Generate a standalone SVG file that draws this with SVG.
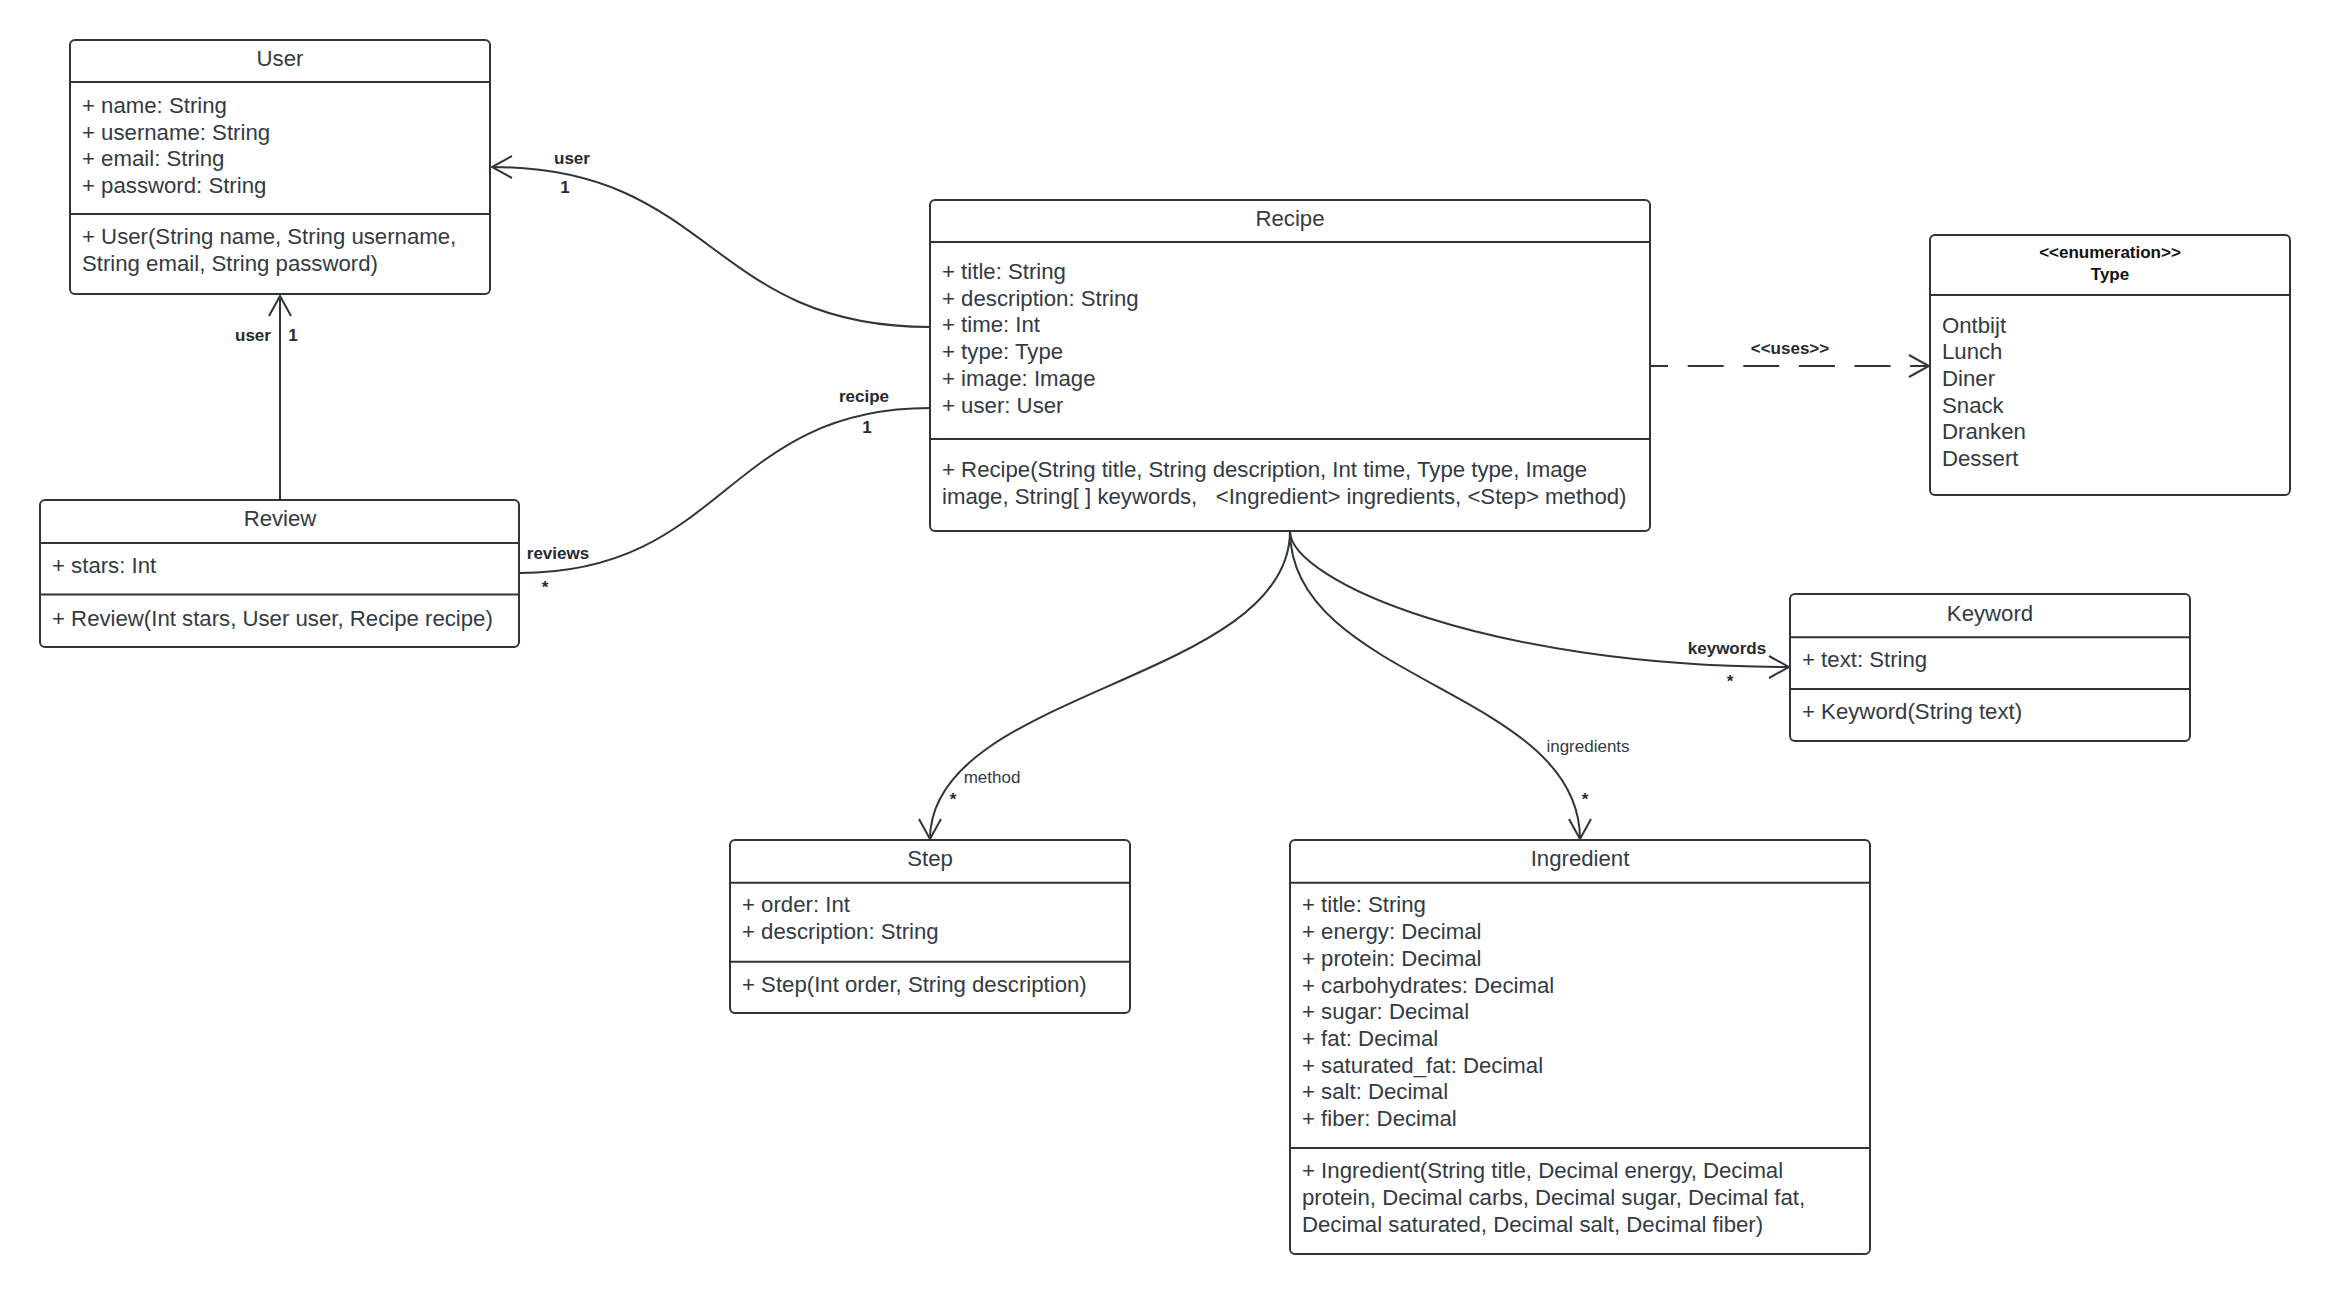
<svg xmlns="http://www.w3.org/2000/svg" width="2330" height="1294" viewBox="0 0 2330 1294">
  <style>
    .box { fill: #ffffff; stroke: #2f353d; stroke-width: 2; }
    .div { stroke: #2f353d; stroke-width: 2; }
    .t { font-family: "Liberation Sans", Arial, sans-serif; font-size: 22.2px; fill: #333a44; }
    .h { text-anchor: middle; }
    .lb { font-family: "Liberation Sans", Arial, sans-serif; font-size: 17px; font-weight: bold; fill: #262b31; text-anchor: middle; }
    .lr { font-family: "Liberation Sans", Arial, sans-serif; font-size: 17px; fill: #333a44; text-anchor: middle; }
    .eb { font-family: "Liberation Sans", Arial, sans-serif; font-size: 17px; font-weight: bold; fill: #111111; text-anchor: middle; }
    .link { fill: none; stroke: #2f353d; stroke-width: 2; }
    .dash { stroke-dasharray: 36 19.6; stroke-dashoffset: 17.9; }
  </style>
  <defs>
    <marker id="open" viewBox="-23 -13 25 26" refX="0" refY="0" markerWidth="25" markerHeight="26" markerUnits="userSpaceOnUse" orient="auto">
      <path d="M -20 -11 L 0 0 L -20 11" fill="none" stroke="#2f353d" stroke-width="2" stroke-dasharray="none"/>
    </marker>
  </defs>
  <rect width="2330" height="1294" fill="#ffffff"/>

  <!-- connectors -->
  <g id="connectors">
    <path class="link" d="M930,327 C708,327 714,167 492,167" marker-end="url(#open)"/>
    <path class="link" d="M280,500 L280,296" marker-end="url(#open)"/>
    <path class="link" d="M520,573 C725,573 725,408 930,408"/>
    <path class="link dash" d="M1650,366 L1929,366" marker-end="url(#open)"/>
    <path class="link" d="M1290,531 C1290,681 930,690 930,839" marker-end="url(#open)"/>
    <path class="link" d="M1290,531 C1290,681 1580,690 1580,839" marker-end="url(#open)"/>
    <path class="link" d="M1290,531 C1290,581 1490,667 1789,667" marker-end="url(#open)"/>

    <text class="lb" x="572" y="164">user</text>
    <text class="lb" x="565" y="193">1</text>
    <text class="lb" x="253" y="341">user</text>
    <text class="lb" x="293" y="341">1</text>
    <text class="lb" x="558" y="559">reviews</text>
    <text class="lb" x="545" y="593">*</text>
    <text class="lb" x="864" y="402">recipe</text>
    <text class="lb" x="867" y="433">1</text>
    <text class="lb" x="1790" y="354">&lt;&lt;uses&gt;&gt;</text>
    <text class="lb" x="1727" y="654">keywords</text>
    <text class="lb" x="1730" y="687">*</text>
    <text class="lr" x="992" y="783">method</text>
    <text class="lb" x="953" y="805">*</text>
    <text class="lr" x="1588" y="752">ingredients</text>
    <text class="lb" x="1585" y="805">*</text>
  </g>

  <!-- User -->
  <g id="user">
    <rect class="box" x="70" y="40" width="420" height="254" rx="5"/>
    <line class="div" x1="70" y1="82" x2="490" y2="82"/>
    <line class="div" x1="70" y1="214" x2="490" y2="214"/>
    <text class="t h" x="280" y="65.7">User</text>
    <text class="t" x="82" y="113">+ name: String</text>
    <text class="t" x="82" y="139.7">+ username: String</text>
    <text class="t" x="82" y="166.4">+ email: String</text>
    <text class="t" x="82" y="193.1">+ password: String</text>
    <text class="t" x="82" y="244.3">+ User(String name, String username,</text>
    <text class="t" x="82" y="271">String email, String password)</text>
  </g>

  <!-- Review -->
  <g id="review">
    <rect class="box" x="40" y="500" width="479" height="147" rx="5"/>
    <line class="div" x1="40" y1="543" x2="519" y2="543"/>
    <line class="div" x1="40" y1="594.5" x2="519" y2="594.5"/>
    <text class="t h" x="280" y="525.7">Review</text>
    <text class="t" x="52" y="573.3">+ stars: Int</text>
    <text class="t" x="52" y="625.7">+ Review(Int stars, User user, Recipe recipe)</text>
  </g>

  <!-- Recipe -->
  <g id="recipe">
    <rect class="box" x="930" y="200" width="720" height="331" rx="5"/>
    <line class="div" x1="930" y1="242" x2="1650" y2="242"/>
    <line class="div" x1="930" y1="439" x2="1650" y2="439"/>
    <text class="t h" x="1290" y="226">Recipe</text>
    <text class="t" x="942" y="279">+ title: String</text>
    <text class="t" x="942" y="305.7">+ description: String</text>
    <text class="t" x="942" y="332.4">+ time: Int</text>
    <text class="t" x="942" y="359.1">+ type: Type</text>
    <text class="t" x="942" y="385.8">+ image: Image</text>
    <text class="t" x="942" y="412.5">+ user: User</text>
    <text class="t" x="942" y="477">+ Recipe(String title, String description, Int time, Type type, Image</text>
    <text class="t" x="942" y="503.7" xml:space="preserve">image, String[ ] keywords,   &lt;Ingredient&gt; ingredients, &lt;Step&gt; method)</text>
  </g>

  <!-- Type enumeration -->
  <g id="type">
    <rect class="box" x="1930" y="235" width="360" height="260" rx="5"/>
    <line class="div" x1="1930" y1="295" x2="2290" y2="295"/>
    <text class="eb" x="2110" y="258">&lt;&lt;enumeration&gt;&gt;</text>
    <text class="eb" x="2110" y="280">Type</text>
    <text class="t" x="1942" y="332.5">Ontbijt</text>
    <text class="t" x="1942" y="359.2">Lunch</text>
    <text class="t" x="1942" y="385.9">Diner</text>
    <text class="t" x="1942" y="412.6">Snack</text>
    <text class="t" x="1942" y="439.3">Dranken</text>
    <text class="t" x="1942" y="466">Dessert</text>
  </g>

  <!-- Keyword -->
  <g id="keyword">
    <rect class="box" x="1790" y="594" width="400" height="147" rx="5"/>
    <line class="div" x1="1790" y1="637.3" x2="2190" y2="637.3"/>
    <line class="div" x1="1790" y1="689" x2="2190" y2="689"/>
    <text class="t h" x="1990" y="620.7">Keyword</text>
    <text class="t" x="1802" y="667.3">+ text: String</text>
    <text class="t" x="1802" y="719.3">+ Keyword(String text)</text>
  </g>

  <!-- Step -->
  <g id="step">
    <rect class="box" x="730" y="840" width="400" height="173" rx="5"/>
    <line class="div" x1="730" y1="882.7" x2="1130" y2="882.7"/>
    <line class="div" x1="730" y1="961.7" x2="1130" y2="961.7"/>
    <text class="t h" x="930" y="865.7">Step</text>
    <text class="t" x="742" y="912.4">+ order: Int</text>
    <text class="t" x="742" y="939.1">+ description: String</text>
    <text class="t" x="742" y="991.7">+ Step(Int order, String description)</text>
  </g>

  <!-- Ingredient -->
  <g id="ingredient">
    <rect class="box" x="1290" y="840" width="580" height="414" rx="5"/>
    <line class="div" x1="1290" y1="882.7" x2="1870" y2="882.7"/>
    <line class="div" x1="1290" y1="1148" x2="1870" y2="1148"/>
    <text class="t h" x="1580" y="865.7">Ingredient</text>
    <text class="t" x="1302" y="912.4">+ title: String</text>
    <text class="t" x="1302" y="939.1">+ energy: Decimal</text>
    <text class="t" x="1302" y="965.8">+ protein: Decimal</text>
    <text class="t" x="1302" y="992.5">+ carbohydrates: Decimal</text>
    <text class="t" x="1302" y="1019.2">+ sugar: Decimal</text>
    <text class="t" x="1302" y="1045.9">+ fat: Decimal</text>
    <text class="t" x="1302" y="1072.6">+ saturated_fat: Decimal</text>
    <text class="t" x="1302" y="1099.3">+ salt: Decimal</text>
    <text class="t" x="1302" y="1126">+ fiber: Decimal</text>
    <text class="t" x="1302" y="1178.3">+ Ingredient(String title, Decimal energy, Decimal</text>
    <text class="t" x="1302" y="1205">protein, Decimal carbs, Decimal sugar, Decimal fat,</text>
    <text class="t" x="1302" y="1231.7">Decimal saturated, Decimal salt, Decimal fiber)</text>
  </g>
</svg>
